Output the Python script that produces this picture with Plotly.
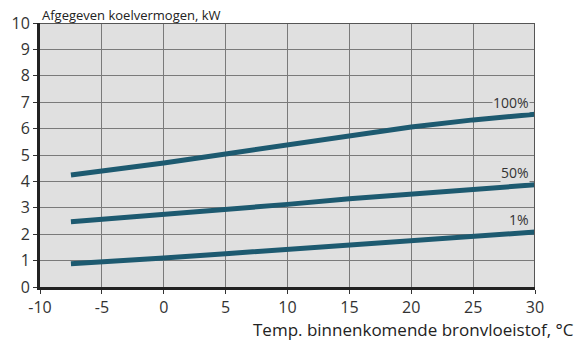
import plotly.graph_objects as go

temps = [-7.5, -5, 0, 5, 10, 15, 20, 25, 30]
cap_100 = [4.24, 4.39, 4.70, 5.04, 5.38, 5.72, 6.06, 6.33, 6.54]
cap_50 = [2.47, 2.56, 2.75, 2.94, 3.13, 3.34, 3.52, 3.69, 3.87]
cap_1 = [0.88, 0.94, 1.10, 1.26, 1.43, 1.58, 1.75, 1.93, 2.08]
series_labels = ["100%", "50%", "1%"]
label_y = [7.0, 4.35, 2.55]
x_ticks = [-10, -5, 0, 5, 10, 15, 20, 25, 30]
x_tick_text = ["-10", "-5", "0", "5", "10", "15", "20", "25", "30"]
y_ticks = list(range(0, 11))

line_color = "#1d5a70"
font_family = "Open Sans, Noto Sans, sans-serif"

fig = go.Figure()
for ys in [cap_100, cap_50, cap_1]:
    fig.add_trace(go.Scatter(x=temps, y=ys, mode="lines",
                             line=dict(color=line_color, width=5),
                             showlegend=False, hoverinfo="skip"))

for lab, ly in zip(series_labels, label_y):
    fig.add_annotation(x=29.6, y=ly, xref="x", yref="y", text=lab,
                       showarrow=False, xanchor="right", yanchor="middle",
                       font=dict(family=font_family, size=14, color="#333"),
                       bgcolor="#e0e0e0", borderpad=0)

fig.add_annotation(x=0.0, y=1.071, xref="paper", yref="paper",
                   text="Afgegeven koelvermogen, kW", showarrow=False,
                   xanchor="left", yanchor="top",
                   font=dict(family=font_family, size=13, color="#222"))
fig.add_annotation(x=1.082, y=-0.11, xref="paper", yref="paper",
                   text="Temp. binnenkomende bronvloeistof, °C", showarrow=False,
                   xanchor="right", yanchor="top",
                   font=dict(family=font_family, size=17, color="#222"))

fig.add_shape(type="line", xref="x", yref="y", x0=30, x1=30, y0=0, y1=10,
              line=dict(color="#555", width=2))
fig.add_shape(type="line", xref="x", yref="y", x0=-10, x1=30, y0=10, y1=10,
              line=dict(color="#555", width=2))

fig.update_xaxes(range=[-10, 30], tickvals=x_ticks, ticktext=x_tick_text,
                 ticks="outside", ticklen=4,
                 tickcolor="#333", showgrid=True, gridcolor="#7a7a7a", gridwidth=1.3,
                 showline=True, linecolor="#222", linewidth=3, zeroline=False,
                 tickfont=dict(family=font_family, size=16, color="#333"))
fig.update_yaxes(range=[0, 10], tickvals=y_ticks, ticks="outside", ticklen=4,
                 tickcolor="#333", showgrid=True, gridcolor="#7a7a7a", gridwidth=1.3,
                 showline=True, linecolor="#222", linewidth=3, zeroline=False,
                 tickfont=dict(family=font_family, size=16, color="#333"))

fig.update_layout(width=578, height=347, margin=dict(l=37, r=43, t=19, b=60),
                  plot_bgcolor="#e0e0e0", paper_bgcolor="white")
fig.write_html("out.html", config={"displayModeBar": False},
               post_script="document.body.style.margin='0px';")
